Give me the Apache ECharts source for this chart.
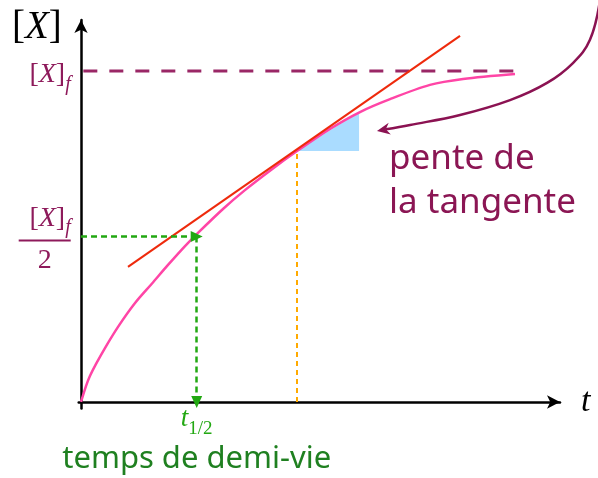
<!DOCTYPE html>
<html>
<head>
<meta charset="utf-8">
<script src="https://cdn.jsdelivr.net/npm/echarts@6/dist/echarts.min.js"></script>
<style>
  html, body { margin: 0; padding: 0; background: #fff; }
  #chart { width: 598px; height: 478px; }
</style>
</head>
<body>
<div id="chart"></div>
<script>
// t en unités de t1/2, [X] en unités de [X]f
const curveT = [0, 0.043, 0.078, 0.13, 0.207, 0.32, 0.467, 0.614, 0.752, 0.899, 1.003, 1.227, 1.417, 1.642, 1.867, 2.152, 2.411, 2.671, 3.016, 3.302, 3.751];
const curveX = [0, 0.048, 0.079, 0.115, 0.163, 0.227, 0.299, 0.358, 0.414, 0.471, 0.508, 0.583, 0.64, 0.701, 0.758, 0.825, 0.876, 0.915, 0.958, 0.976, 0.991];

const tangentT = [0.406, 3.276];
const tangentX = [0.408, 1.106];

const xFinal = 1;          // [X]f
const xHalf = 0.5;         // [X]f / 2
const finalLineT = [0.02, 3.75];
const tHalf = 1;           // t1/2
const tTangent = 1.867;    // point de tangence
const xTangent = 0.758;

// triangle bleu (pente)
const slopeT = [1.867, 2.403, 2.403];
const slopeX = [0.758, 0.758, 0.875];

// flèche "pente de la tangente"
const arrowT = [4.486, 4.399, 4.252, 4.028, 3.708, 3.276, 2.844, 2.558];
const arrowX = [1.215, 1.094, 1.024, 0.964, 0.912, 0.867, 0.837, 0.819];

const purple = '#8e1a5b';
const green = '#22a812';
const serif = '"Liberation Serif", "DejaVu Serif", serif';
const sans = '"Noto Sans", sans-serif';

const chart = echarts.init(document.getElementById('chart'));

const zip = (a, b) => a.map((v, i) => [v, b[i]]);

const option = {
  animation: false,
  grid: { left: 78.7, right: 38, top: 20, bottom: 69.4, outerBoundsMode: 'none', containLabel: false },
  xAxis: {
    type: 'value',
    min: -0.02,
    max: 4.14,
    axisLine: {
      show: true, onZero: true,
      symbol: ['none', 'arrow'], symbolSize: [10, 13],
      lineStyle: { color: '#000', width: 2.5 }
    },
    axisTick: { show: false },
    splitLine: { show: false },
    axisLabel: {
      customValues: [tHalf],
      margin: 2,
      formatter: () => '{t|t}{s|1/2}\n{d|temps de demi-vie}',
      rich: {
        t: { fontFamily: serif, fontStyle: 'italic', fontSize: 27, lineHeight: 26, padding: [0, 0, 10, 0], color: green },
        s: { fontFamily: serif, fontSize: 19, lineHeight: 26, padding: [10, 0, 0, 0], color: green },
        d: { fontFamily: sans, fontSize: 31, lineHeight: 46, color: '#1f8020' }
      }
    },
    name: 't',
    nameLocation: 'end',
    nameGap: 21,
    nameTextStyle: { fontFamily: serif, fontStyle: 'italic', fontSize: 34, color: '#000', verticalAlign: 'middle' }
  },
  yAxis: {
    type: 'value',
    min: -0.02,
    max: 1.154,
    axisLine: {
      show: true, onZero: true,
      symbol: ['none', 'arrow'], symbolSize: [10, 13],
      lineStyle: { color: '#000', width: 2.5 }
    },
    axisTick: { show: false },
    splitLine: { show: false },
    axisLabel: {
      customValues: [xHalf, xFinal],
      margin: 8,
      formatter: (v) => v === xFinal
        ? '{b|[}{x|X}{b|]}{f|f}'
        : '{nb|[}{nx|X}{nb|]}{nf|f}\n{bar| }\n{two|2}',
      rich: {
        b: { fontFamily: serif, fontSize: 28, lineHeight: 28, padding: [14, 0, 6, 0], color: purple },
        x: { fontFamily: serif, fontStyle: 'italic', fontSize: 28, lineHeight: 28, padding: [14, 0, 6, 0], color: purple },
        f: { fontFamily: serif, fontStyle: 'italic', fontSize: 20, lineHeight: 20, padding: [28, 0, 0, 0], color: purple },
        nb: { fontFamily: serif, fontSize: 28, lineHeight: 46, padding: [12, 0, 8, 0], color: purple },
        nx: { fontFamily: serif, fontStyle: 'italic', fontSize: 28, lineHeight: 46, padding: [12, 0, 8, 0], color: purple },
        nf: { fontFamily: serif, fontStyle: 'italic', fontSize: 20, lineHeight: 20, padding: [25, 0, 3, 0], color: purple },
        bar: { width: 52, height: 2, lineHeight: 2, fontSize: 1, backgroundColor: purple },
        two: { fontFamily: serif, fontSize: 28, lineHeight: 38, width: 52, align: 'center', color: purple }
      }
    }
  },
  graphic: [
    {
      type: 'text', left: 12, top: 8,
      style: {
        text: '{b|[}{x|X}{b|]}',
        rich: {
          b: { fontFamily: serif, fontSize: 39, lineHeight: 42, fill: '#000' },
          x: { fontFamily: serif, fontStyle: 'italic', fontSize: 39, lineHeight: 42, fill: '#000' }
        }
      }
    },
    {
      type: 'text', left: 389, top: 137,
      style: {
        text: 'pente de\nla tangente',
        fontFamily: sans, fontSize: 35, lineHeight: 44, fill: '#8b1654'
      }
    }
  ],
  series: [
    {
      // triangle de pente
      type: 'custom',
      z: 1,
      data: [0],
      renderItem: (params, api) => ({
        type: 'polygon',
        shape: { points: slopeT.map((t, i) => api.coord([t, slopeX[i]])) },
        style: { fill: '#aadcff' }
      })
    },
    {
      // [X]f en pointillés
      type: 'line',
      z: 2,
      data: zip(finalLineT, [xFinal, xFinal]),
      symbol: 'none',
      lineStyle: { color: '#9a2766', width: 3, type: [14, 12] }
    },
    {
      // repères t1/2 et point de tangence
      type: 'line',
      z: 2,
      data: [],
      markLine: {
        silent: true,
        label: { show: false },
        symbolSize: [11, 12],
        data: [
          [
            { coord: [0, xHalf], symbol: 'none', lineStyle: { color: green, width: 2.5, type: [6, 4] } },
            { coord: [tHalf, xHalf], symbol: 'triangle' }
          ],
          [
            { coord: [tHalf, xHalf], symbol: 'none', lineStyle: { color: green, width: 2.5, type: [6, 4] } },
            { coord: [tHalf, 0], symbol: 'triangle' }
          ],
          [
            { coord: [tTangent, 0], symbol: 'none', lineStyle: { color: '#ffaa00', width: 2, type: [5, 4] } },
            { coord: [tTangent, xTangent], symbol: 'none' }
          ]
        ]
      }
    },
    {
      // courbe [X](t)
      type: 'line',
      z: 3,
      data: zip(curveT, curveX),
      smooth: 0.3,
      symbol: 'none',
      lineStyle: { color: '#ff45a6', width: 2.5 }
    },
    {
      // tangente
      type: 'line',
      z: 4,
      data: zip(tangentT, tangentX),
      symbol: 'none',
      lineStyle: { color: '#ee2a0c', width: 2 }
    },
    {
      // flèche vers "pente de la tangente"
      type: 'custom',
      z: 5,
      clip: false,
      data: [0],
      renderItem: (params, api) => {
        const pts = arrowT.map((t, i) => api.coord([t, arrowX[i]]));
        const tip = pts[pts.length - 1];
        const prev = pts[pts.length - 2];
        const dx = tip[0] - prev[0], dy = tip[1] - prev[1];
        const len = Math.hypot(dx, dy);
        const ux = dx / len, uy = dy / len;
        const nx = -uy, ny = ux;
        const L = 13, W = 6, N = 9;
        const back = [tip[0] - ux * L, tip[1] - uy * L];
        const notch = [tip[0] - ux * N, tip[1] - uy * N];
        const line = pts.slice(0, -1).concat([notch]);
        return {
          type: 'group',
          children: [
            {
              type: 'polyline',
              shape: { points: line, smooth: 0.4 },
              style: { stroke: '#8b1252', lineWidth: 2.5, fill: null }
            },
            {
              type: 'polygon',
              shape: { points: [tip, [back[0] + nx * W, back[1] + ny * W], notch, [back[0] - nx * W, back[1] - ny * W]] },
              style: { fill: '#8b1252' }
            }
          ]
        };
      }
    }
  ]
};

chart.setOption(option);
</script>
</body>
</html>
